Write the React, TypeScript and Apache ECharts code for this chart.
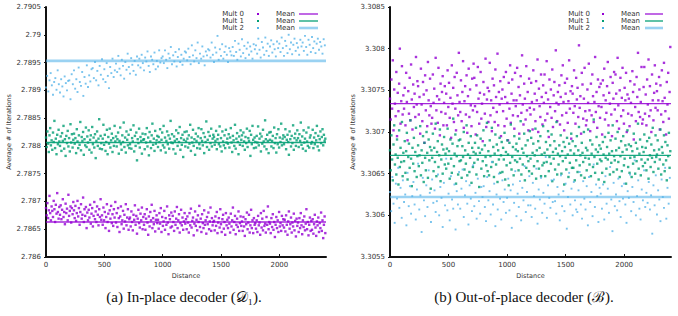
import React, { useEffect, useRef } from "react";
import * as echarts from "echarts";

// ---------- data ----------
const SERIES_NAMES = ["Mult 0", "Mult 1", "Mult 2"];
const COLORS = ["#9400d3", "#009e73", "#56b4e9"];
const CAPTIONS = ["(a) In-place decoder (𝒟₁).", "(b) Out-of-place decoder (ℬ)."];
const X_NAME = "Distance";
const Y_NAME = "Average # of Iterations";
const X_MIN = 0;
const X_MAX = 2400;
const X_INTERVAL = 500;
const Y_INTERVAL = 0.0005;
const LEFT_Y_RANGE = [2.786, 2.7905];
const RIGHT_Y_RANGE = [3.3055, 3.3085];
// distance step between consecutive samples
const DENSE_STEP = 6; // Mult 0, Mult 1
const SPARSE_STEP = 10; // Mult 2
// mean values (horizontal lines)
const LEFT_MEANS = [2.78663, 2.78806, 2.78953];
const RIGHT_MEANS = [3.30734, 3.30672, 3.30622];
// sample values are stored in units of 1e-5 above a base value
const UNIT = 1e-5;
const LEFT_BASE = 2.786;
const RIGHT_BASE = 3.3055;

const LEFT_M0 = [
  88,75,97,70,84,110,79,66,91,83,72,101,86,63,94,78,115,81,69,90,
  76,93,68,85,104,72,81,59,96,79,87,66,112,74,83,91,62,88,77,99,
  84,70,92,65,79,101,73,88,58,81,95,69,76,107,63,86,74,90,52,80,
  66,85,71,94,60,78,88,55,74,99,68,82,63,91,76,57,86,72,104,67,
  75,58,89,66,81,52,72,95,63,78,47,84,69,92,61,77,56,86,71,99,
  62,79,54,88,70,45,73,91,59,66,83,51,76,64,95,57,71,86,49,68,
  71,55,82,63,48,76,67,93,58,74,42,69,85,61,53,78,66,89,50,72,
  58,77,49,69,86,62,40,73,55,81,66,94,52,70,59,83,46,67,75,61,
  67,51,79,60,88,45,72,56,64,83,49,70,58,91,62,41,75,68,53,80,
  55,74,63,47,82,58,69,90,52,66,77,44,61,85,57,71,49,64,79,60,
  68,50,73,62,44,79,57,87,53,65,71,39,60,82,56,67,48,75,63,92,
  54,69,45,77,61,52,84,58,66,42,72,59,80,50,64,89,47,70,57,63,
  65,48,73,56,81,43,62,70,53,86,59,45,68,76,51,63,40,79,57,67,
  52,71,60,44,78,55,66,89,49,63,74,41,58,69,54,82,47,61,73,56,
  64,47,72,55,38,68,59,80,50,62,76,44,57,85,52,66,43,70,58,61,
  51,66,45,74,57,62,40,79,53,69,48,83,56,60,44,72,58,91,50,63,
  60,43,70,54,77,49,63,36,58,72,52,66,45,81,55,61,47,74,57,68,
  53,67,46,75,58,40,64,82,51,59,71,44,62,55,78,48,65,37,69,56,
  62,45,70,52,79,57,41,66,54,73,48,60,86,50,63,39,58,71,47,65,
  49,68,42,59,76,53,38,64,57,71,45,61,52,80,47,66,34,58,73,43,
];

const LEFT_M1 = [
  215,198,226,204,189,219,232,201,210,193,224,207,245,196,213,185,220,203,229,208,
  200,217,191,223,209,236,195,212,182,218,205,227,199,214,190,239,206,221,197,211,
  222,204,214,187,230,208,196,219,202,243,192,216,209,225,184,212,201,233,198,217,
  206,228,193,211,219,188,234,203,215,197,221,178,209,226,200,213,248,195,218,205,
  194,213,238,202,220,191,207,229,185,216,204,231,197,210,222,189,214,200,236,208,
  217,199,212,224,186,209,233,203,193,219,207,242,198,215,188,226,211,201,220,196,
  203,229,195,214,208,237,190,218,200,224,174,212,205,231,197,216,209,186,222,211,
  212,194,221,206,232,199,215,183,225,208,196,219,240,202,213,191,227,204,210,218,
  198,216,207,230,192,211,224,201,236,197,215,188,209,226,203,219,195,213,245,206,
  221,205,194,217,209,186,228,212,200,223,207,234,193,214,202,220,180,211,225,199,
  208,226,213,197,219,204,238,191,215,206,229,200,212,184,222,209,196,217,232,203,
  195,214,230,209,201,223,187,216,207,244,198,211,225,193,218,205,231,199,213,220,
  216,202,209,227,194,212,220,203,235,199,214,190,226,208,201,219,196,229,206,213,
  204,221,197,215,232,206,189,218,210,200,238,195,213,223,207,185,217,202,228,211,
  219,200,224,208,193,216,205,231,198,214,209,227,182,220,203,236,211,196,215,207,
  197,218,206,235,201,213,222,190,217,204,229,208,199,246,212,194,220,209,187,224,
  211,225,199,209,218,196,233,205,214,188,221,203,230,197,215,207,240,201,213,219,
  203,216,230,194,211,220,207,184,226,212,199,218,205,237,193,214,222,200,210,228,
  214,198,221,209,242,202,217,195,228,206,213,191,224,208,200,233,197,215,219,204,
  207,229,196,215,203,223,210,236,199,218,192,212,226,205,216,230,201,220,209,213,
];

const LEFT_M2 = [
  305,326,298,318,331,309,292,315,322,301,336,311,296,320,307,289,325,313,300,317,
  318,284,329,311,336,303,320,297,341,315,308,333,290,324,312,345,306,327,316,338,
  340,322,351,318,335,309,344,328,356,320,338,315,349,326,304,342,331,357,324,336,
  348,333,362,339,327,355,344,321,351,337,366,342,330,358,346,335,353,328,361,345,
  357,341,364,349,336,359,352,370,344,333,361,355,347,368,338,353,343,372,350,358,
  361,349,372,355,340,366,358,378,347,363,352,369,343,360,374,351,364,346,357,370,
  368,354,375,360,347,381,363,352,372,358,386,349,366,357,379,361,345,370,363,374,
  372,359,386,364,351,377,368,398,355,374,362,383,357,369,379,364,351,376,370,363,
  378,362,389,369,355,384,373,361,392,367,380,358,375,386,364,379,370,357,383,374,
  381,366,393,373,359,387,377,364,395,371,384,362,379,390,368,383,374,361,388,376,
  384,369,395,376,362,389,380,367,400,374,386,365,382,393,371,385,377,364,391,379,
  386,371,398,378,364,391,382,369,396,376,388,367,384,393,373,387,379,366,392,381,
];

const RIGHT_M0 = [
  190,165,213,178,236,152,201,184,169,222,145,197,175,208,250,160,187,229,171,194,
  178,203,158,221,186,140,199,172,215,164,231,189,153,207,180,196,168,240,183,211,
  205,171,192,148,226,183,163,210,195,137,218,176,200,157,234,188,170,214,181,160,
  167,219,185,202,154,239,176,193,161,227,189,146,208,174,198,217,158,185,205,172,
  196,158,224,180,209,167,191,143,230,184,203,162,216,178,152,221,194,170,245,186,
  174,212,163,198,235,155,187,205,171,218,149,193,226,168,201,182,157,214,176,232,
  215,181,147,206,174,228,190,160,197,222,166,184,139,210,195,172,238,156,189,203,
  162,199,233,170,188,151,214,179,206,162,225,192,174,244,158,198,183,211,145,190,
  201,175,216,157,192,222,166,185,140,209,178,230,161,196,213,170,188,154,221,181,
  188,227,169,204,148,194,217,173,242,183,159,208,190,165,229,176,198,152,214,179,
  171,209,186,153,224,177,196,163,211,188,237,150,202,181,168,219,192,159,206,185,
  219,164,197,235,172,189,144,213,180,201,167,225,156,194,210,175,248,185,163,198,
  183,206,159,192,218,170,230,186,152,209,196,173,214,161,187,236,178,199,142,205,
  196,173,224,181,160,215,189,203,168,254,179,193,148,221,207,166,190,227,175,158,
  164,201,185,232,176,151,208,170,219,193,162,186,240,174,198,155,213,181,204,167,
  208,180,147,212,194,226,165,188,173,205,234,158,197,184,216,171,145,209,190,222,
  177,219,196,163,239,182,154,200,215,169,191,227,176,160,203,188,221,150,195,172,
  190,157,211,185,170,223,198,141,207,180,163,216,192,245,174,201,168,186,228,160,
  165,204,228,172,195,158,213,183,237,169,205,176,150,219,188,164,197,230,179,208,
  199,176,188,216,153,206,171,224,187,162,233,191,175,147,210,183,221,166,198,252,
];

const RIGHT_M1 = [
  128,104,146,117,92,135,158,111,123,99,141,119,87,152,108,131,114,162,97,125,
  115,139,101,127,149,93,120,136,107,164,118,85,131,112,143,103,126,155,96,121,
  134,109,122,157,98,128,113,145,90,137,119,104,150,125,95,141,116,132,82,128,
  119,148,103,131,114,160,97,126,139,108,122,153,91,117,135,100,129,144,111,124,
  106,130,154,112,127,94,141,118,101,136,166,109,124,147,88,121,133,99,140,115,
  141,116,95,133,120,150,105,128,112,158,98,123,137,102,119,145,89,131,108,126,
  113,137,124,99,146,117,131,84,125,142,106,129,115,152,97,134,120,110,161,103,
  127,98,140,121,108,155,114,132,96,124,147,111,135,90,128,117,143,101,122,138,
  102,131,117,149,93,126,110,140,123,86,137,113,159,105,120,132,98,145,116,129,
  136,114,127,104,142,118,163,99,130,111,125,148,92,134,107,121,140,115,103,151,
  118,143,100,125,136,109,122,154,94,128,115,139,106,131,145,97,123,110,157,113,
  125,97,138,114,129,151,103,120,134,112,147,91,126,118,139,105,130,162,99,124,
  111,134,121,146,100,127,115,138,87,132,119,105,143,123,96,136,113,128,148,107,
  139,107,124,92,133,116,145,102,128,156,110,122,98,137,125,114,150,95,119,131,
  104,128,153,118,111,140,97,124,135,108,165,120,101,129,144,112,126,93,134,117,
  130,115,101,138,123,90,144,119,106,132,117,149,124,99,140,113,127,158,102,121,
  116,142,128,105,150,114,131,96,121,139,103,126,145,110,118,134,88,129,152,108,
  135,101,119,133,96,127,112,148,120,100,137,115,130,160,106,124,141,98,117,132,
  109,126,147,113,131,104,139,117,94,143,122,108,135,119,155,102,128,114,146,120,
  123,140,106,129,117,153,99,132,125,111,146,103,138,116,92,134,121,149,107,127,
];

const RIGHT_M2 = [
  78,55,96,64,41,88,70,107,59,83,47,92,66,75,38,101,61,85,52,73,
  90,63,45,81,112,57,74,30,95,68,49,86,60,104,77,42,93,65,80,54,
  67,99,50,84,71,36,89,62,118,56,76,44,97,69,58,87,33,79,63,102,
  58,82,105,48,74,91,64,39,86,70,55,110,61,77,46,94,67,52,84,72,
  85,60,43,96,68,79,51,114,63,88,37,75,57,100,70,45,92,66,81,53,
  71,94,56,80,35,87,65,103,49,76,60,91,44,83,68,109,54,78,62,97,
  62,48,89,73,58,106,40,81,69,95,53,77,64,120,47,86,71,59,92,66,
  93,67,52,84,75,44,98,61,79,55,88,34,72,101,63,82,50,90,68,57,
  54,80,102,63,46,91,70,57,85,38,96,66,78,49,111,60,87,73,42,83,
  76,58,87,45,97,64,82,53,108,69,31,89,61,75,56,94,67,48,85,70,
  88,63,41,79,71,99,55,84,66,116,50,73,92,58,45,81,68,104,60,77,
  65,90,57,74,28,86,62,98,51,80,69,43,93,72,59,107,46,83,64,95,
];

// ---------- layout ----------
const W = 678;
const H = 316;
const GRIDS = [
  { left: 46, top: 7, width: 280, height: 250 },
  { left: 390, top: 7, width: 281, height: 250 },
];
const LEGENDS = [
  { textRight: 244, dotX: 258, meanRight: 295, lineX1: 299, lineX2: 318 },
  { textRight: 590, dotX: 603, meanRight: 640, lineX1: 645, lineX2: 663 },
];
const LEGEND_ROWS = [14, 21, 28];
const MEAN_WIDTHS = [1.4, 1.4, 2.6];
const MEAN_OPACITY = [0.85, 0.9, 0.6];
const POINT_SIZES = [2.4, 2.4, 1.9];
const FONT = "'DejaVu Sans', sans-serif";
const SERIF = "'Liberation Serif', 'DejaVu Serif', serif";

function toPoints(vals: number[], base: number, step: number) {
  return vals.map((v, i) => [i * step, base + v * UNIT]);
}

function fmtY(v: number) {
  return String(parseFloat(v.toFixed(4)));
}

function fmtX(v: number) {
  return String(Math.round(v));
}

export default function App() {
  const ref = useRef<HTMLDivElement>(null);

  useEffect(() => {
    document.body.style.margin = "0";
    if (!ref.current) return;
    const chart = echarts.init(ref.current, null, { renderer: "svg" });

    const panels = [
      { base: LEFT_BASE, data: [LEFT_M0, LEFT_M1, LEFT_M2], means: LEFT_MEANS, range: LEFT_Y_RANGE, nameGap: 33 },
      { base: RIGHT_BASE, data: [RIGHT_M0, RIGHT_M1, RIGHT_M2], means: RIGHT_MEANS, range: RIGHT_Y_RANGE, nameGap: 33 },
    ];

    const axisLabel = { fontSize: 7, color: "#333", fontFamily: FONT };
    const axisLine = { show: true, lineStyle: { color: "#111", width: 2 } };

    const xAxis = panels.map((_, i) => ({
      type: "value",
      gridIndex: i,
      min: X_MIN,
      max: X_MAX,
      interval: X_INTERVAL,
      name: X_NAME,
      nameLocation: "middle",
      nameGap: 14,
      nameTextStyle: { fontSize: 6.5, color: "#333", fontFamily: FONT },
      axisLine,
      axisTick: { show: true, inside: true, length: 3, lineStyle: { color: "#111" } },
      axisLabel: { ...axisLabel, margin: 4, showMaxLabel: false, formatter: fmtX },
      splitLine: { show: false },
    }));

    const yAxis = panels.map((p, i) => ({
      type: "value",
      gridIndex: i,
      min: p.range[0],
      max: p.range[1],
      interval: Y_INTERVAL,
      name: Y_NAME,
      nameLocation: "middle",
      nameGap: p.nameGap,
      nameTextStyle: { fontSize: 6.5, color: "#333", fontFamily: FONT },
      axisLine,
      axisTick: { show: true, inside: false, length: 2, lineStyle: { color: "#111" } },
      axisLabel: { ...axisLabel, margin: 5, formatter: fmtY },
      splitLine: { show: false },
    }));

    const series: any[] = [];
    panels.forEach((p, gi) => {
      p.data.forEach((vals, si) => {
        series.push({
          type: "scatter",
          name: SERIES_NAMES[si],
          xAxisIndex: gi,
          yAxisIndex: gi,
          symbol: "rect",
          symbolSize: POINT_SIZES[si],
          itemStyle: { color: COLORS[si] },
          data: toPoints(vals, p.base, si === 2 ? SPARSE_STEP : DENSE_STEP),
          z: 2 + si,
        });
      });
      p.means.forEach((m, si) => {
        series.push({
          type: "line",
          name: "Mean " + si,
          xAxisIndex: gi,
          yAxisIndex: gi,
          symbol: "none",
          lineStyle: { color: COLORS[si], width: MEAN_WIDTHS[si], opacity: MEAN_OPACITY[si] },
          data: [[X_MIN, m], [X_MAX, m]],
          z: 6,
        });
      });
    });

    const graphic: any[] = [];
    LEGENDS.forEach((L) => {
      SERIES_NAMES.forEach((name, si) => {
        const y = LEGEND_ROWS[si];
        graphic.push({
          type: "text",
          x: L.textRight,
          y,
          style: { text: name, fontSize: 7, fill: "#333", fontFamily: FONT, align: "right", verticalAlign: "middle" },
        });
        graphic.push({
          type: "rect",
          shape: { x: L.dotX - 1, y: y - 1, width: 2, height: 2 },
          style: { fill: COLORS[si] },
        });
        graphic.push({
          type: "text",
          x: L.meanRight,
          y,
          style: { text: "Mean", fontSize: 7, fill: "#333", fontFamily: FONT, align: "right", verticalAlign: "middle" },
        });
        graphic.push({
          type: "line",
          shape: { x1: L.lineX1, y1: y, x2: L.lineX2, y2: y },
          style: { stroke: COLORS[si], lineWidth: MEAN_WIDTHS[si], opacity: MEAN_OPACITY[si] },
        });
      });
    });
    CAPTIONS.forEach((c, i) => {
      graphic.push({
        type: "text",
        x: i === 0 ? 184 : 524,
        y: 297,
        style: { text: c, fontSize: 15, fill: "#111", fontFamily: SERIF, align: "center", verticalAlign: "middle" },
      });
    });

    chart.setOption({
      animation: false,
      backgroundColor: "#fff",
      grid: GRIDS.map((g) => ({ ...g, containLabel: false })),
      xAxis,
      yAxis,
      series,
      graphic,
    });

    return () => chart.dispose();
  }, []);

  return <div ref={ref} style={{ width: W, height: H }} />;
}
